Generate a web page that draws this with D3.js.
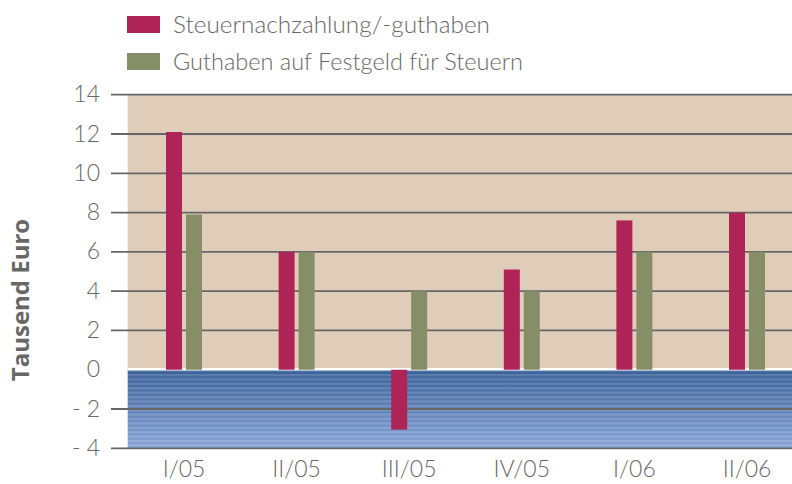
<!DOCTYPE html>
<html><head><meta charset="utf-8">
<script src="https://cdn.jsdelivr.net/npm/d3@7"></script>
<style>
html,body{margin:0;padding:0;background:#fff;}
svg{display:block;}
text{font-family:Lato,"Open Sans",sans-serif;fill:#676767;}
</style></head>
<body>
<svg id="c" width="792" height="484"></svg>
<script>
const categories = ["I/05","II/05","III/05","IV/05","I/06","II/06"];
const seriesNames = ["Steuernachzahlung/-guthaben","Guthaben auf Festgeld für Steuern"];
const nachzahlung = [12.1, 6.0, -3.05, 5.1, 7.6, 8.0];
const festgeld = [7.9, 6.0, 4.0, 4.0, 6.0, 6.0];
const yTicks = [14,12,10,8,6,4,2,0,-2,-4];
const yTickLabels = ["14","12","10","8","6","4","2","0","- 2","- 4"];
const colors = ["#AE2457","#868E68"];

const svg = d3.select("#c");
const W = 792;
const y = d3.scaleLinear().domain([-4,14]).range([448.3,94.7]);
const x = d3.scaleBand().domain(categories).range([127.7,803.3]);
const xs = d3.scaleBand().domain([0,1]).range([-18,18]).paddingInner(0.2);

const defs = svg.append("defs");
const grad = defs.append("linearGradient").attr("id","bg").attr("x1",0).attr("y1",0).attr("x2",0).attr("y2",1);
grad.append("stop").attr("offset","0%").attr("stop-color","#3a6099");
grad.append("stop").attr("offset","100%").attr("stop-color","#88a5d8");
const pat = defs.append("pattern").attr("id","stripes").attr("patternUnits","userSpaceOnUse")
  .attr("width",10).attr("height",4.4);
pat.append("rect").attr("x",0).attr("y",0).attr("width",10).attr("height",2).attr("fill","rgba(255,255,255,0.16)");

const plotL = 127.7;
svg.append("rect").attr("x",plotL).attr("y",y(14)).attr("width",W-plotL).attr("height",y(0)-y(14)).attr("fill","#DFCDBA");
svg.append("rect").attr("x",plotL).attr("y",y(0)).attr("width",W-plotL).attr("height",y(-4)-y(0)).attr("fill","url(#bg)");
svg.append("rect").attr("x",plotL).attr("y",y(0)).attr("width",W-plotL).attr("height",y(-4)-y(0)).attr("fill","url(#stripes)");
svg.append("line").attr("x1",plotL).attr("x2",W).attr("y1",y(0)-0.5).attr("y2",y(0)-0.5).attr("stroke","#fff").attr("stroke-width",2.5);

const gridTicks = yTicks.filter(d=>d!==0);
svg.append("g").selectAll("line").data(gridTicks).join("line")
  .attr("x1",111).attr("x2",W).attr("y1",d=>y(d)).attr("y2",d=>y(d))
  .attr("stroke","#666").attr("stroke-width",1.8);

svg.append("g").selectAll("text").data(yTicks).join("text")
  .attr("x",100).attr("y",d=>y(d)).attr("dy","0.33em").attr("text-anchor","end")
  .attr("font-size",23).attr("font-weight",300).text((d,i)=>yTickLabels[i]);

const data = categories.map((c,i)=>({c, v:[nachzahlung[i],festgeld[i]]}));
const g = svg.append("g");
data.forEach(d=>{
  d.v.forEach((v,j)=>{
    g.append("rect")
      .attr("x",x(d.c)+x.bandwidth()/2+xs(j))
      .attr("width",xs.bandwidth())
      .attr("y",Math.min(y(v),y(0)))
      .attr("height",Math.abs(y(v)-y(0)))
      .attr("fill",colors[j]);
  });
});

svg.append("g").selectAll("text").data(categories).join("text")
  .attr("x",d=>x(d)+x.bandwidth()/2).attr("y",477).attr("text-anchor","middle")
  .attr("font-size",23).attr("font-weight",300).text(d=>d);

svg.append("text").attr("transform","translate(29,300) rotate(-90)").attr("text-anchor","middle")
  .attr("font-size",24).attr("font-weight",700).style("font-family","'Open Sans',sans-serif").attr("fill","#585858").text("Tausend Euro");

const legendWidths = [317, 350];
const leg = svg.append("g");
seriesNames.forEach((s,i)=>{
  leg.append("rect").attr("x",127).attr("y",16+i*37).attr("width",33).attr("height",17).attr("fill",colors[i]);
  leg.append("text").attr("x",173).attr("y",33+i*37).attr("font-size",24).attr("font-weight",300)
    .attr("textLength",legendWidths[i]).attr("lengthAdjust","spacingAndGlyphs").text(s);
});
</script>
</body></html>
